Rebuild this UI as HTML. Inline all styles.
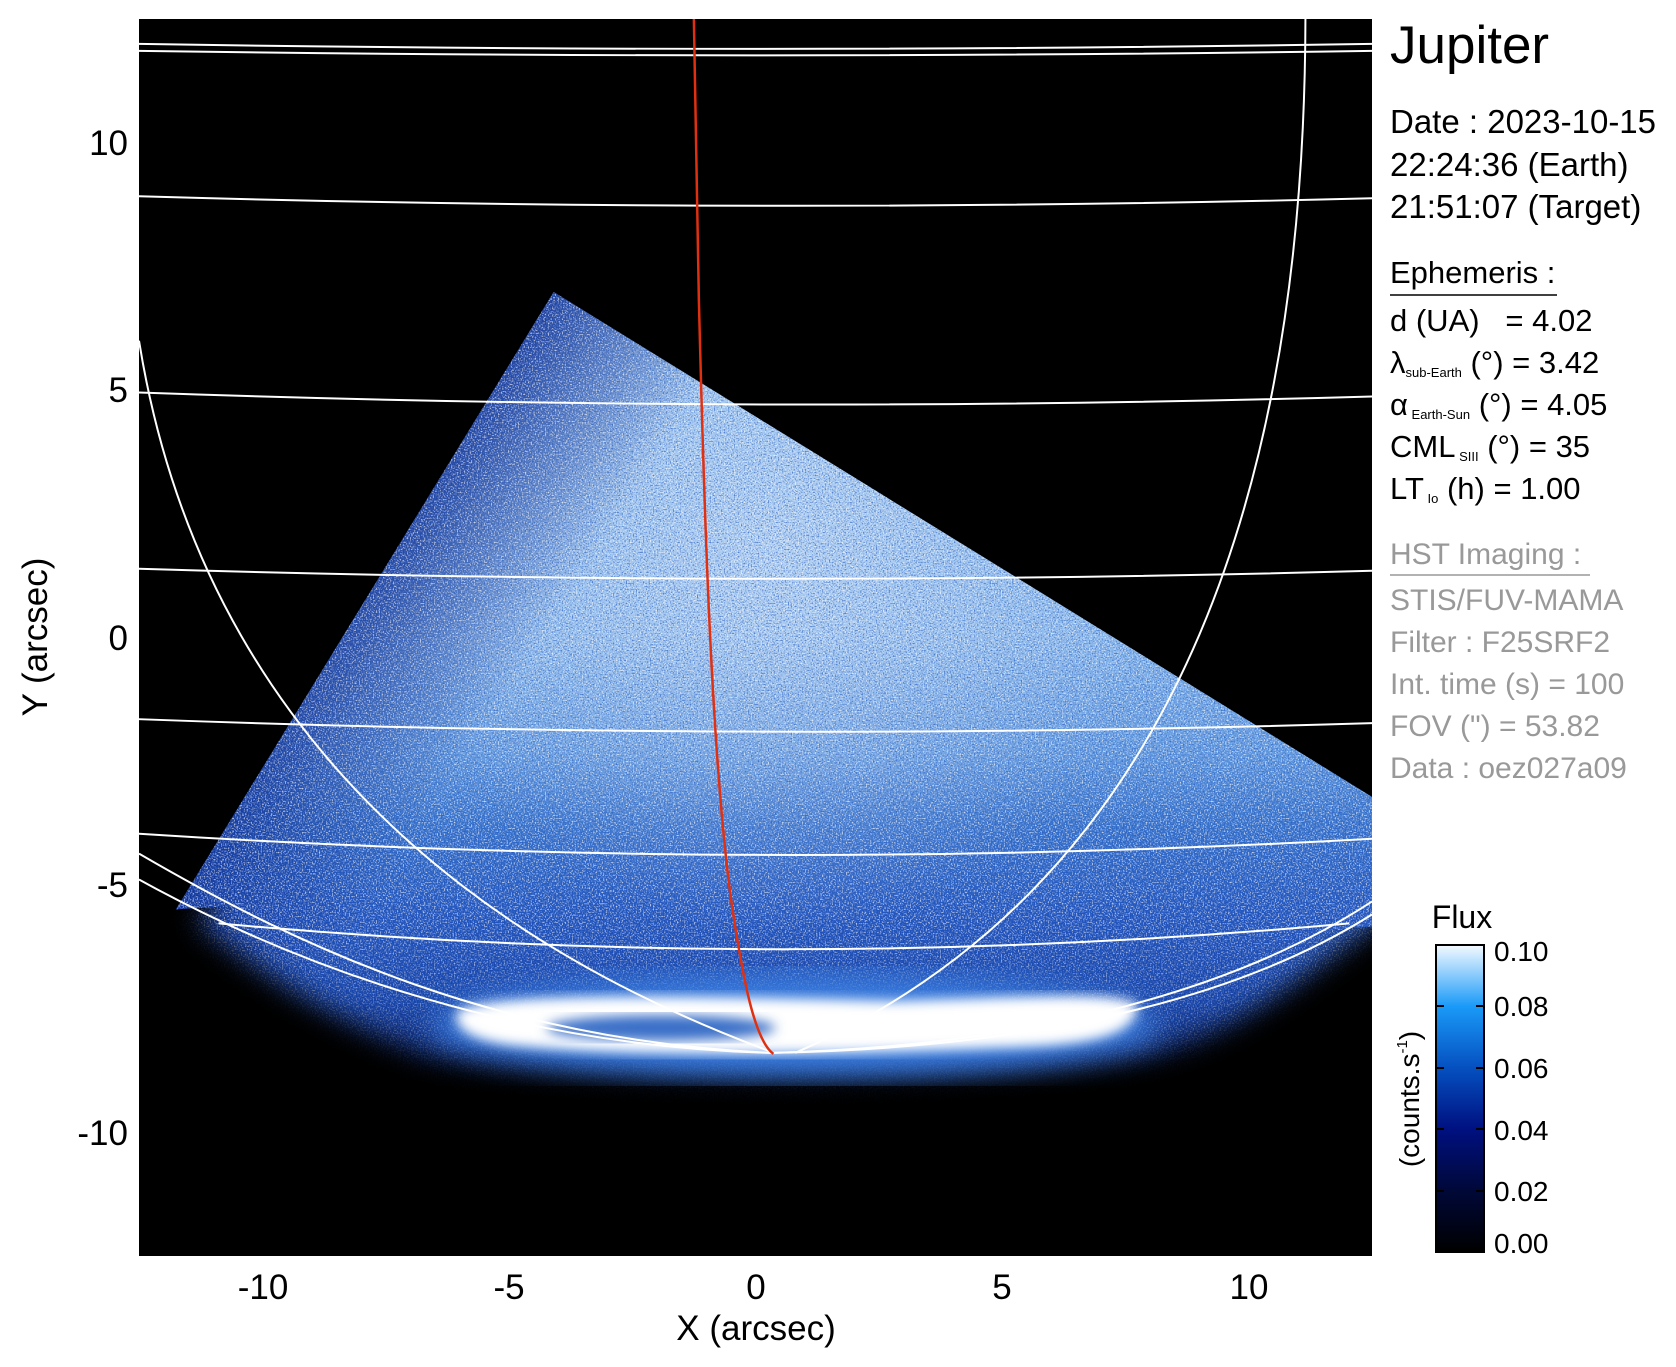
<!DOCTYPE html>
<html><head><meta charset="utf-8"><style>
html,body{margin:0;padding:0;background:#fff;}
svg{display:block;}
text{font-family:"Liberation Sans",sans-serif;}
</style></head><body>
<svg width="1676" height="1367" viewBox="0 0 1676 1367" xmlns="http://www.w3.org/2000/svg">
<defs>
  <clipPath id="plot"><rect x="140" y="19" width="1240" height="1242"/></clipPath>
  <filter id="mblur" x="-10%" y="-10%" width="120%" height="120%"><feGaussianBlur stdDeviation="14"/></filter>
  <mask id="tri" maskUnits="userSpaceOnUse" x="0" y="0" width="1676" height="1367">
    <path d="M280,800 L1000,690 L1420,860 L1420,900 C1330,960 1250,1040 1150,1060 C1000,1085 600,1090 430,1060 C350,1030 280,990 200,925 Z" fill="#fff" filter="url(#mblur)"/>
    <path d="M557,293 L1380,800 L1380,930 L1200,945 L400,900 L177,913 Z" fill="#fff"/>
  </mask>
  <linearGradient id="vg" x1="0" y1="293" x2="0" y2="1120" gradientUnits="userSpaceOnUse">
    <stop offset="0" stop-color="#8fbdee"/>
    <stop offset="0.42" stop-color="#86b6ec"/>
    <stop offset="0.56" stop-color="#5f98e0"/>
    <stop offset="0.65" stop-color="#3470cc"/>
    <stop offset="0.76" stop-color="#1f52bd"/>
    <stop offset="0.86" stop-color="#1642a8"/>
    <stop offset="0.93" stop-color="#0a2470"/>
    <stop offset="1" stop-color="#000418"/>
  </linearGradient>
  <linearGradient id="lg" x1="350" y1="615" x2="500" y2="712" gradientUnits="userSpaceOnUse">
    <stop offset="0" stop-color="#0a2a90" stop-opacity="0.85"/>
    <stop offset="1" stop-color="#0a2a90" stop-opacity="0"/>
  </linearGradient>
  <radialGradient id="rg" cx="780" cy="560" r="380" gradientUnits="userSpaceOnUse">
    <stop offset="0" stop-color="#ffffff" stop-opacity="0.35"/>
    <stop offset="1" stop-color="#ffffff" stop-opacity="0"/>
  </radialGradient>
  <linearGradient id="cb" x1="0" y1="1252" x2="0" y2="945" gradientUnits="userSpaceOnUse">
    <stop offset="0" stop-color="#000000"/>
    <stop offset="0.2" stop-color="#000838"/>
    <stop offset="0.4" stop-color="#001080"/>
    <stop offset="0.6" stop-color="#0550c0"/>
    <stop offset="0.8" stop-color="#1a9af8"/>
    <stop offset="1" stop-color="#f4faff"/>
  </linearGradient>
  <filter id="noise" x="0" y="0" width="100%" height="100%">
    <feTurbulence type="fractalNoise" baseFrequency="0.7" numOctaves="1" seed="3"/>
    <feColorMatrix type="matrix" values="0 0 0 0 1  0 0 0 0 1  0 0 0 0 1  4 0 0 0 -1.9"/>
  </filter>
  <filter id="noise2" x="0" y="0" width="100%" height="100%">
    <feTurbulence type="fractalNoise" baseFrequency="0.7" numOctaves="1" seed="11"/>
    <feColorMatrix type="matrix" values="0 0 0 0 0.02  0 0 0 0 0.1  0 0 0 0 0.5  4 0 0 0 -2.0"/>
  </filter>
  <linearGradient id="nfade" x1="0" y1="0" x2="0" y2="1" >
    <stop offset="0" stop-color="#fff"/>
    <stop offset="0.75" stop-color="#fff"/>
    <stop offset="1" stop-color="#000"/>
  </linearGradient>
  <mask id="nmask" maskUnits="userSpaceOnUse" x="140" y="280" width="1240" height="860">
    <rect x="140" y="280" width="1240" height="860" fill="url(#nfade)"/>
  </mask>
  <filter id="blur6"><feGaussianBlur stdDeviation="6"/></filter>
  <filter id="blur15"><feGaussianBlur stdDeviation="15"/></filter>
</defs>

<rect x="139" y="19" width="1233" height="1237" fill="#000"/>
<g transform="translate(139,19) scale(0.9944,0.996) translate(-140,-19)">
<g clip-path="url(#plot)">
  <g mask="url(#tri)">
    <rect x="140" y="280" width="1240" height="860" fill="url(#vg)"/>
    <rect x="140" y="280" width="1240" height="860" fill="url(#rg)"/>
    <rect x="140" y="280" width="1240" height="860" fill="url(#lg)"/>
    <g mask="url(#nmask)">
      <rect x="140" y="280" width="1240" height="860" filter="url(#noise)" opacity="0.7"/>
    </g>
    <rect x="140" y="280" width="1240" height="860" filter="url(#noise2)" opacity="0.7"/>
  </g>
  <ellipse cx="800" cy="1030" rx="365" ry="50" fill="#3a7ee0" filter="url(#blur15)"/>
  <path d="M460,1015 C500,995 700,1000 900,1005 C1050,1000 1130,995 1145,1010 C1140,1040 1100,1050 1000,1052 C850,1058 650,1062 520,1050 C470,1045 455,1030 460,1015 Z" fill="#fff" filter="url(#blur6)"/>
  <ellipse cx="665" cy="1032" rx="115" ry="13" fill="#3a70c8" filter="url(#blur6)"/>

  <g fill="none" stroke="#fff" stroke-width="2">
    <path d="M140,44 Q760,54 1380,44"/>
    <path d="M140,51 Q760,60 1380,51"/>
    <path d="M140,197 Q760,215 1380,199"/>
    <path d="M140,394 Q760,416 1380,398"/>
    <path d="M140,571 Q760,590 1380,573"/>
    <path d="M140,722 Q760,745 1380,726"/>
    <path d="M140,837 Q760,877 1380,842"/>
    <path d="M220,927 Q790,979 1357,927"/>
    <path d="M140,857 C300,950 500,1045 776,1057"/>
    <path d="M140,883 C280,960 500,1050 776,1057"/>
    <path d="M1380,905 C1250,990 1050,1050 776,1057"/>
    <path d="M1380,918 C1250,1000 1050,1052 776,1057"/>
    <path d="M140,342 C175,560 300,880 776,1056"/>
    <path d="M1313,19 C1312,450 1205,880 800,1057"/>
  </g>
  <path d="M698,19 L703,300 C708,500 715,750 735,900 C748,990 760,1045 778,1058" fill="none" stroke="#e03010" stroke-width="2.5"/>
</g>
</g>

<!-- axis labels -->
<g font-size="35" fill="#000">
  <text x="128" y="155" text-anchor="end">10</text>
  <text x="128" y="402" text-anchor="end">5</text>
  <text x="128" y="650" text-anchor="end">0</text>
  <text x="128" y="897" text-anchor="end">-5</text>
  <text x="128" y="1145" text-anchor="end">-10</text>
  <text x="263" y="1299" text-anchor="middle">-10</text>
  <text x="509" y="1299" text-anchor="middle">-5</text>
  <text x="756" y="1299" text-anchor="middle">0</text>
  <text x="1002" y="1299" text-anchor="middle">5</text>
  <text x="1249" y="1299" text-anchor="middle">10</text>
  <text x="756" y="1340" text-anchor="middle">X (arcsec)</text>
  <text transform="translate(47,637) rotate(-90)" text-anchor="middle">Y (arcsec)</text>
</g>

<!-- info text -->
<g fill="#000" font-size="31">
  <text x="1390" y="63" font-size="53">Jupiter</text>
  <text x="1390" y="133" font-size="33">Date : 2023-10-15</text>
  <text x="1390" y="176" font-size="33">22:24:36 (Earth)</text>
  <text x="1390" y="218" font-size="33">21:51:07 (Target)</text>
  <text x="1390" y="283">Ephemeris :</text>
  <line x1="1390" y1="295" x2="1557" y2="295" stroke="#000" stroke-width="1.5"/>
  <text x="1390" y="331">d (UA) &#160;&#160;= 4.02</text>
  <text x="1390" y="373">λ<tspan font-size="13" dy="4">sub-Earth</tspan><tspan dy="-4"> (°) = 3.42</tspan></text>
  <text x="1390" y="415">α<tspan font-size="13" dy="4"> Earth-Sun</tspan><tspan dy="-4"> (°) = 4.05</tspan></text>
  <text x="1390" y="457">CML<tspan font-size="13" dy="4"> SIII</tspan><tspan dy="-4"> (°) = 35</tspan></text>
  <text x="1390" y="499">LT<tspan font-size="13" dy="4"> Io</tspan><tspan dy="-4"> (h) = 1.00</tspan></text>
</g>
<g fill="#999" font-size="30">
  <text x="1390" y="564">HST Imaging :</text>
  <line x1="1390" y1="575" x2="1590" y2="575" stroke="#999" stroke-width="1.5"/>
  <text x="1390" y="610">STIS/FUV-MAMA</text>
  <text x="1390" y="652">Filter : F25SRF2</text>
  <text x="1390" y="694">Int. time (s) = 100</text>
  <text x="1390" y="736">FOV (") = 53.82</text>
  <text x="1390" y="778">Data : oez027a09</text>
</g>

<!-- colorbar -->
<rect x="1436" y="945" width="48" height="307" fill="url(#cb)" stroke="#000" stroke-width="2"/>
<g stroke="#000" stroke-width="2">
  <line x1="1436" y1="1006" x2="1444" y2="1006"/><line x1="1476" y1="1006" x2="1484" y2="1006"/>
  <line x1="1436" y1="1068" x2="1444" y2="1068"/><line x1="1476" y1="1068" x2="1484" y2="1068"/>
  <line x1="1436" y1="1129" x2="1444" y2="1129"/><line x1="1476" y1="1129" x2="1484" y2="1129"/>
  <line x1="1436" y1="1191" x2="1444" y2="1191"/><line x1="1476" y1="1191" x2="1484" y2="1191"/>
</g>
<g font-size="28" fill="#000">
  <text x="1462" y="928" font-size="32" text-anchor="middle">Flux</text>
  <text x="1494" y="961">0.10</text>
  <text x="1494" y="1016">0.08</text>
  <text x="1494" y="1078">0.06</text>
  <text x="1494" y="1140">0.04</text>
  <text x="1494" y="1201">0.02</text>
  <text x="1494" y="1253">0.00</text>
  <text transform="translate(1419,1099) rotate(-90)" text-anchor="middle">(counts.s<tspan font-size="15" dy="-12">-1</tspan><tspan dy="12">)</tspan></text>
</g>
</svg>
</body></html>
